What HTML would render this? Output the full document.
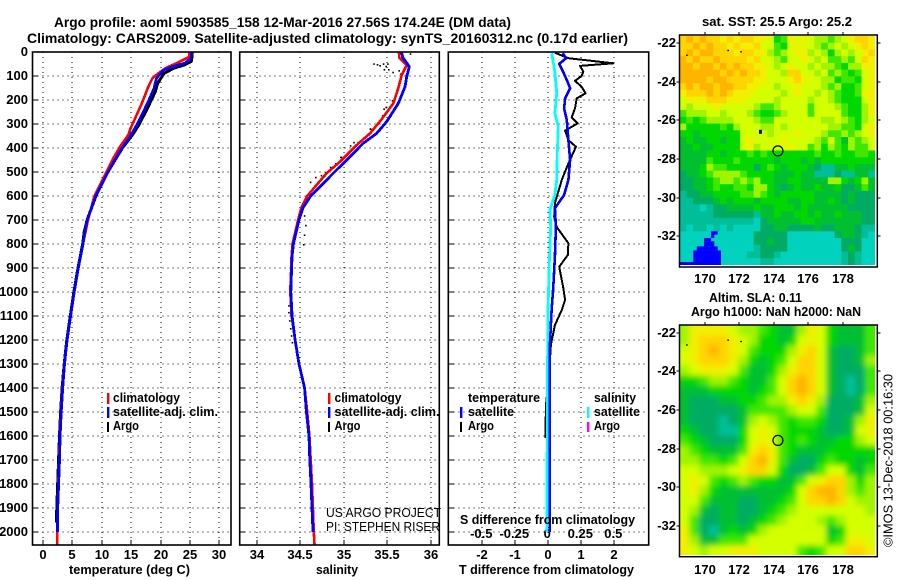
<!DOCTYPE html>
<html lang="en">
<head>
<meta charset="utf-8">
<title>Argo profile 5903585_158</title>
<style>
html,body{margin:0;padding:0;background:#fff;}
svg{display:block;}
text{font-family:"Liberation Sans",Arial,sans-serif;fill:#000;}
.b{font-weight:bold;font-size:13px;}
.t{font-weight:bold;font-size:14px;}
.r{font-weight:normal;font-size:12.5px;}
</style>
</head>
<body>
<svg id="chart" xmlns="http://www.w3.org/2000/svg" width="900" height="580" viewBox="0 0 900 580">
  <rect x="0" y="0" width="900" height="580" fill="#fff"/>
  <defs>
    <clipPath id="clip-sst"><rect x="679.5" y="36" width="195.5" height="229"/></clipPath>
    <clipPath id="clip-sla"><rect x="679.5" y="325.5" width="195.5" height="229.5"/></clipPath>
    <filter id="smooth" filterUnits="userSpaceOnUse" x="640" y="290" width="280" height="300"><feGaussianBlur stdDeviation="3"/></filter>
  </defs>
  <text class="t" x="54" y="27" textLength="457" lengthAdjust="spacingAndGlyphs">Argo profile: aoml 5903585_158 12-Mar-2016 27.56S 174.24E (DM data)</text>
  <text class="t" x="27" y="43" textLength="601" lengthAdjust="spacingAndGlyphs">Climatology: CARS2009. Satellite-adjusted climatology: synTS_20160312.nc (0.17d earlier)</text>
  <g id="panels"></g>
  <g id="maps"></g>

  <text class="b" x="69" y="574" textLength="121" lengthAdjust="spacingAndGlyphs">temperature (deg C)</text>
  <text class="b" x="316" y="574" textLength="42" lengthAdjust="spacingAndGlyphs">salinity</text>
  <text class="b" x="459" y="574" textLength="175" lengthAdjust="spacingAndGlyphs">T difference from climatology</text>
  <text class="b" x="460" y="524" textLength="175" lengthAdjust="spacingAndGlyphs">S difference from climatology</text>

  <g>
    <rect x="107" y="393" width="2.4" height="11" fill="#f00"/>
    <text class="b" x="113" y="402" textLength="67" lengthAdjust="spacingAndGlyphs">climatology</text>
    <rect x="107" y="407" width="2.4" height="11" fill="#00f"/>
    <text class="b" x="113" y="416" textLength="105" lengthAdjust="spacingAndGlyphs">satellite-adj. clim.</text>
    <rect x="107" y="422" width="2" height="10" fill="#000"/>
    <text class="b" x="113" y="430" textLength="26" lengthAdjust="spacingAndGlyphs">Argo</text>
  </g>
  <g>
    <rect x="328" y="393" width="2.4" height="11" fill="#f00"/>
    <text class="b" x="334.5" y="402" textLength="67" lengthAdjust="spacingAndGlyphs">climatology</text>
    <rect x="328" y="407" width="2.4" height="11" fill="#00f"/>
    <text class="b" x="334.5" y="416" textLength="105" lengthAdjust="spacingAndGlyphs">satellite-adj. clim.</text>
    <rect x="328" y="422" width="2" height="10" fill="#000"/>
    <text class="b" x="334.5" y="430" textLength="26" lengthAdjust="spacingAndGlyphs">Argo</text>
  </g>
  <g>
    <text class="b" x="468" y="402" textLength="72" lengthAdjust="spacingAndGlyphs">temperature</text>
    <rect x="460" y="407" width="2.4" height="11" fill="#00f"/>
    <text class="b" x="468" y="416" textLength="46" lengthAdjust="spacingAndGlyphs">satellite</text>
    <rect x="460" y="422" width="2" height="10" fill="#000"/>
    <text class="b" x="468" y="430" textLength="26" lengthAdjust="spacingAndGlyphs">Argo</text>
    <text class="b" x="594" y="402" textLength="42" lengthAdjust="spacingAndGlyphs">salinity</text>
    <rect x="587" y="407" width="2.4" height="11" fill="#0ff"/>
    <text class="b" x="594" y="416" textLength="46" lengthAdjust="spacingAndGlyphs">satellite</text>
    <rect x="587" y="422" width="2.4" height="10" fill="#f0f"/>
    <text class="b" x="594" y="430" textLength="26" lengthAdjust="spacingAndGlyphs">Argo</text>
  </g>

  <text class="r" x="326" y="517" textLength="115" lengthAdjust="spacingAndGlyphs">US ARGO PROJECT</text>
  <text class="r" x="326" y="531" textLength="114" lengthAdjust="spacingAndGlyphs">PI: STEPHEN RISER</text>

  <text class="b" x="702" y="26" textLength="150" lengthAdjust="spacingAndGlyphs">sat. SST: 25.5 Argo: 25.2</text>
  <text class="b" x="709" y="302" textLength="93" lengthAdjust="spacingAndGlyphs">Altim. SLA: 0.11</text>
  <text class="b" x="691" y="316" textLength="170" lengthAdjust="spacingAndGlyphs">Argo h1000: NaN h2000: NaN</text>
  <text class="r" transform="translate(892.5,547) rotate(-90)" x="0" y="0" textLength="173" lengthAdjust="spacingAndGlyphs">©IMOS 13-Dec-2018 00:16:30</text>
</svg>

<script>
/* ---------- profile data ---------- */
const depthTicks = [0,100,200,300,400,500,600,700,800,900,1000,1100,1200,1300,1400,1500,1600,1700,1800,1900,2000];
const tempTicks = [0,5,10,15,20,25,30];
const salTicks = [34,34.5,35,35.5,36];
const salTickLabels = ['34','34.5','35','35.5','36'];
const diffTTicks = [-2,-1,0,1,2];
const diffSLabels = ['-0.5','-0.25','0','0.25','0.5'];

const tempClimDepth = [0,20,26,47,65,89,110,145,180,214,269,318,346,395,443,505,600,650,700,800,900,1000,1100,1200,1300,1400,1500,1600,1700,1800,1900,2000,2055];
const tempClim = [24.9,24.9,24.4,22.7,21.0,19.6,18.6,17.9,17.35,16.8,15.8,14.9,14.5,13.1,11.95,10.7,8.75,8.2,7.65,6.8,6.0,5.3,4.7,4.1,3.6,3.3,3.05,2.85,2.75,2.6,2.5,2.4,2.4];
const tempSatDepth = [0,26,47,61,75,110,151,207,235,304,353,415,505,600,700,750,800,900,1000,1100,1200,1300,1400,1500,1600,1700,1800,1900,2000];
const tempSat = [25.3,25.2,24.1,22.1,20.5,19.3,18.9,17.9,17.35,15.95,14.8,13.1,10.95,9.0,7.5,7.1,6.8,6.0,5.3,4.7,4.1,3.65,3.35,3.1,2.9,2.8,2.65,2.5,2.45];
const tempArgoDepth = [0,26,40,54,68,89,130,165,235,304,346,400,505,600,700,750,800,900,1000,1100,1200,1300,1400,1500,1600,1700,1800,1900,1960];
const tempArgo = [25.3,25.3,25.2,24.0,22.2,20.6,19.5,19.1,17.75,16.3,15.2,13.5,10.9,9.0,7.5,7.0,6.75,5.95,5.25,4.65,4.05,3.6,3.25,3.0,2.8,2.65,2.5,2.35,2.3];

const salClimDepth = [0,5,24,54,96,151,214,280,339,388,457,505,600,650,700,800,850,900,1000,1100,1200,1300,1400,1500,1600,1700,1800,1900,2000,2055];
const salClim = [35.637,35.637,35.64,35.726,35.668,35.629,35.571,35.438,35.303,35.15,34.957,34.804,34.58,34.51,34.475,34.41,34.4,34.395,34.385,34.4,34.44,34.485,34.55,34.58,34.605,34.62,34.635,34.645,34.655,34.665];
const salSatDepth = [0,5,24,61,103,145,214,290,339,380,443,505,600,650,700,800,850,900,1000,1100,1200,1300,1400,1500,1600,1700,1800,1900,2000];
const salSat = [35.668,35.668,35.683,35.756,35.726,35.706,35.629,35.495,35.38,35.226,35.053,34.88,34.62,34.53,34.485,34.42,34.405,34.4,34.39,34.405,34.44,34.485,34.55,34.57,34.6,34.61,34.623,34.635,34.646];
const salArgoDepth = [5,20,47,50,54,47,57,47,71,71,82,75,89,200,221,228,263,304,318,353,374,388,415,436,463,500,540,520,512,478,436,374,318,235,200,680,720,760,800,1055,1083,1117,1150,1180,1208];
const salArgo = [35.76,35.66,35.34,35.38,35.41,35.45,35.48,35.5,35.51,35.46,35.56,35.63,35.65,35.58,35.54,35.48,35.44,35.37,35.3,35.245,35.157,35.07,35.065,34.965,34.9,34.785,34.61,34.67,34.735,34.84,34.957,35.11,35.3,35.456,35.553,34.54,34.555,34.54,34.53,34.36,34.36,34.37,34.38,34.39,34.4];

const diffArgoTDepth = [3,26,47,58,82,100,120,145,172,193,235,272,297,328,367,395,464,533,630,686,728,797,846,895,978,1033,1075,1138,1220,1346,1470,1608];
const diffArgoT = [0.2,0.61,1.97,0.96,1.06,1.01,0.81,1.01,1.13,0.86,0.81,0.71,0.89,0.51,0.61,0.84,0.61,0.41,0.2,0.18,0.25,0.61,0.59,0.33,0.45,0.51,0.41,0.2,0.08,0.02,-0.07,-0.09];
const diffSatTDepth = [5,26,50,82,117,151,193,235,283,367,450,533,596,651,728,853,978,1075,1220,2000];
const diffSatT = [0.44,0.54,0.33,0.45,0.56,0.66,0.51,0.48,0.56,0.61,0.66,0.61,0.48,0.2,0.23,0.2,0.15,0.1,0.05,0.05];
const diffSatSDepth = [5,82,172,255,311,422,533,596,658,728,867,1075,1354,2000];
const diffSatS = [0.026,0.05,0.064,0.05,0.076,0.068,0.064,0.05,0.013,0.018,0.008,-0.002,-0.006,-0.011];

/* ---------- map data ---------- */
const lonTicks = [170,172,174,176,178];
const latTicks = [-22,-24,-26,-28,-30,-32];
const floatLon = 174.24;
const floatLat = -27.56;
const sstLevelColors = ['#0000ff','#00d2be','#00bf98','#00ac64','#00c030','#00d800','#40e800','#a0f400','#d4ff00','#f0f000','#ffd400','#ffb400'];
const sstCells = [
[10,11,10,11,10,10,9,10,9,10,10,9,9,8,5,6,9,8,9,8,7,7,6,7,8,9,10,10,9],
[10,10,11,10,11,10,10,9,10,9,9,10,8,8,6,5,8,9,8,8,7,6,7,8,7,8,9,10,9],
[10,11,10,11,11,10,10,10,9,10,10,9,9,7,6,7,8,9,9,7,8,7,5,7,8,7,8,9,10],
[11,10,11,10,10,11,10,10,10,10,9,10,8,8,7,6,8,8,9,8,7,8,6,6,7,6,8,10,9],
[11,11,10,11,11,10,11,10,11,10,10,9,9,8,7,8,9,8,8,7,8,7,7,6,5,7,7,9,9],
[11,11,11,11,11,11,10,11,10,11,10,10,9,8,8,7,10,10,8,8,7,8,6,7,6,5,6,8,9],
[11,11,11,11,10,11,11,10,10,10,10,9,9,8,8,8,9,10,9,8,8,7,7,5,6,6,5,8,9],
[10,11,10,11,11,10,11,11,10,10,9,9,8,8,7,8,8,9,8,8,8,7,6,7,5,5,6,8,9],
[9,10,10,10,11,10,11,10,9,9,9,8,8,8,8,7,8,9,8,8,7,8,7,6,5,5,6,9,9],
[8,9,9,9,10,10,10,9,9,9,8,8,8,8,7,8,8,8,8,7,8,8,7,6,5,5,5,8,9],
[8,7,8,8,8,9,8,8,8,8,8,7,6,6,7,8,8,8,8,6,8,8,8,7,6,5,5,7,9],
[6,7,7,7,8,8,7,8,8,8,7,6,5,5,6,7,8,8,8,6,8,8,8,8,6,5,5,7,9],
[5,6,5,6,7,7,7,7,8,8,8,7,6,6,8,8,8,8,8,8,8,7,7,8,7,6,5,7,8],
[7,5,5,5,5,5,6,5,7,8,8,8,7,7,8,7,8,8,8,8,8,8,7,7,6,6,5,8,9],
[5,5,4,5,5,5,5,5,5,8,8,8,8,7,8,8,8,9,8,8,8,7,6,6,7,6,7,8,9],
[4,5,4,4,5,5,4,5,5,8,9,8,8,8,8,9,8,8,8,8,7,6,8,6,4,7,6,7,8],
[4,4,5,4,4,5,5,5,5,8,9,7,8,8,8,8,9,8,8,6,7,5,7,6,5,7,6,6,8],
[4,4,4,4,5,5,4,5,5,5,6,5,6,5,5,5,5,5,5,5,6,5,5,6,5,5,6,6,5],
[4,4,4,4,6,5,5,5,6,5,5,5,5,5,4,5,5,5,4,5,4,5,5,5,5,5,5,5,5],
[4,4,4,5,7,6,6,5,5,5,5,3,5,6,5,4,5,5,5,4,3,2,2,4,4,5,4,4,4],
[3,4,4,5,6,7,7,7,7,6,5,5,5,5,4,4,4,5,4,4,2,2,2,3,2,2,4,4,2],
[3,3,4,4,5,6,7,7,6,7,6,7,5,5,4,4,5,5,4,4,4,4,7,7,5,4,5,7,4],
[3,3,4,4,5,6,5,5,6,6,5,7,7,5,4,3,4,5,4,4,5,4,4,5,3,3,4,6,4],
[2,3,3,4,4,5,5,5,5,6,6,7,6,5,4,5,5,5,5,5,4,4,4,4,3,4,3,3,3],
[2,2,3,3,3,4,5,4,5,5,5,4,5,5,5,5,4,4,5,5,4,4,5,4,3,4,3,3,3],
[2,2,2,1,2,3,3,4,4,4,4,5,4,4,5,5,5,4,5,4,4,4,4,4,4,3,3,3,3],
[2,2,2,2,2,3,3,3,3,3,3,2,4,4,5,4,4,5,5,4,5,4,4,5,4,4,4,3,3],
[2,2,2,2,2,2,2,2,2,2,2,1,3,4,4,4,4,4,5,5,4,4,4,4,4,4,4,3,3],
[2,1,2,2,1,2,1,2,1,1,1,1,3,3,4,4,3,3,3,3,4,3,3,4,4,4,3,2,2],
[1,1,1,1,1,1,1,1,1,1,1,3,3,3,3,3,1,1,1,1,1,1,1,3,4,4,3,2,1],
[1,1,1,1,1,1,1,1,1,1,1,3,3,4,3,3,1,1,1,1,1,1,1,1,3,3,3,1,1],
[1,1,1,1,1,1,1,1,1,1,1,2,3,3,3,3,1,1,1,1,1,1,1,1,3,4,3,1,1],
[1,1,1,1,1,1,1,1,1,1,2,2,3,3,2,1,1,1,1,1,1,1,1,1,2,3,2,1,1],
[1,1,1,1,1,1,1,1,1,1,1,1,2,2,1,1,1,1,1,1,1,1,1,1,2,3,2,1,1]
];
const landLatTop = [-31.74,-31.91,-32.09,-32.26,-32.52,-32.73,-33.33,-26.49];
const landLatBottom = [-31.91,-32.09,-32.26,-32.52,-32.73,-33.33,-33.5,-26.7];
const landLonWest = [170.35,170.35,169.94,169.94,169.52,169.32,168.52,173.14];
const landLonEast = [170.74,170.54,170.35,170.54,170.74,170.93,170.93,173.31];
const islandLon = [168.9,171.3,172.05];
const islandLat = [-22.6,-22.35,-22.42];
const slaCells = [
[7,9,9,9,9,8,7,7,6,5,4,4,7,9,8,5,4,4,4,6],
[7,9,10,10,10,9,8,7,5,5,4,5,8,9,8,5,4,4,4,6],
[8,9,10,11,10,9,8,6,5,5,5,7,9,10,8,4,3,3,4,6],
[8,9,10,10,10,9,7,5,4,5,6,8,10,10,8,4,3,3,4,7],
[7,8,9,9,9,8,6,4,4,5,7,9,10,10,8,4,3,3,3,6],
[5,5,6,7,7,6,5,4,4,6,8,10,11,10,8,4,3,2,3,6],
[4,4,4,5,5,5,5,4,5,6,8,10,11,10,8,4,3,2,3,6],
[4,3,3,3,4,4,5,5,6,7,7,9,10,9,7,3,3,3,4,7],
[4,3,3,3,3,3,4,6,6,6,6,7,8,8,6,3,3,3,4,8],
[4,3,3,3,2,3,4,7,8,7,6,5,6,6,5,3,3,4,7,9],
[5,4,3,3,2,2,5,8,9,8,6,5,5,5,4,3,3,4,8,9],
[6,5,4,3,3,3,5,8,9,8,6,5,6,5,4,4,5,5,7,8],
[7,6,5,4,4,4,6,9,10,9,6,5,4,4,4,5,5,5,5,5],
[7,7,6,6,5,6,8,10,11,9,6,4,3,3,5,6,5,5,4,5],
[8,8,7,7,7,8,9,10,10,8,5,3,3,4,6,8,8,5,4,6],
[8,9,8,6,5,6,7,6,5,5,4,4,6,8,9,10,10,7,5,7],
[8,9,7,5,4,4,4,4,4,4,4,5,8,10,11,11,10,7,6,7],
[8,8,6,4,4,4,3,3,4,4,5,6,8,10,10,11,10,8,7,7],
[8,7,4,3,4,4,3,3,4,5,6,7,8,8,8,8,8,8,8,7],
[8,6,3,3,4,4,3,4,5,6,7,8,8,8,7,6,7,8,8,8],
[9,6,3,2,4,5,4,5,7,8,8,8,8,8,8,4,5,8,8,8],
[9,7,4,4,6,6,6,8,8,8,8,8,8,8,8,5,6,9,9,8],
[9,8,7,8,8,9,9,9,8,8,8,8,6,5,6,8,8,10,10,9]
];

/* ---------- axis functions ---------- */
const NS = 'http://www.w3.org/2000/svg';
const yDepth = d => 52 + d * 0.24;
const xTemp = t => 43 + t * 5.88;
const xSal = s => 300.3 + (s - 34.5) * 86.8;
const xDiffT = t => 548.3 + t * 33;
const xDiffS = s => 548.3 + s * 132;
const xLon = lon => 705 + (lon - 170) * 17.2;
const ySst = lat => 43 + (-22 - lat) * 19.33;
const ySla = lat => 332.7 + (-22 - lat) * 19.3;

function make(parent, tag, attrs, txt) {
  const el = document.createElementNS(NS, tag);
  for (const k in attrs) el.setAttribute(k, attrs[k]);
  if (txt !== undefined) el.textContent = txt;
  parent.appendChild(el);
  return el;
}
const panelsG = document.getElementById('panels');
const mapsG = document.getElementById('maps');
const TOP = 52, BOT = 545;

function drawPanel(name, left, right, xFn, xVals, xLabels, labelDepth) {
  const g = make(panelsG, 'g', {});
  
  
  depthTicks.forEach(d => {
    const y = Math.round(yDepth(d));
    if (d > 0) {
      const gl = make(g, 'line', {x1:left,x2:right,y1:y,y2:y,stroke:'#000','stroke-width':1,'stroke-dasharray':'1 4','shape-rendering':'crispEdges'});
      
      
      const tl = make(g, 'line', {x1:left,x2:left+5,y1:y,y2:y,stroke:'#000','stroke-width':1,'shape-rendering':'crispEdges'});
      
      
    }
    if (labelDepth) {
      const lb = make(g, 'text', {x:28,y:y+4,'text-anchor':'end','class':'b'}, String(d));
      
      
    }
  });
  xVals.forEach((v, i) => {
    const x = Math.round(xFn(v));
    const gl = make(g, 'line', {x1:x,x2:x,y1:TOP,y2:BOT,stroke:'#000','stroke-width':1,'stroke-dasharray':'1 4','shape-rendering':'crispEdges'});
    
    
    const tl = make(g, 'line', {x1:x,x2:x,y1:BOT-5,y2:BOT,stroke:'#000','stroke-width':1,'shape-rendering':'crispEdges'});
    
    
    const lb = make(g, 'text', {x:x,y:559,'text-anchor':'middle','class':'b'}, xLabels[i]);
    
    
  });
  return g;
}
function drawLine(g, name, depths, vals, xFn, color, w) {
  const pts = depths.map((d, i) => xFn(vals[i]).toFixed(1) + ',' + yDepth(d).toFixed(1)).join(' ');
  const l = make(g, 'polyline', {points:pts,fill:'none',stroke:color,'stroke-width':w,'stroke-linejoin':'round','shape-rendering':'crispEdges'});
  
  
}
function drawFrame(g, left, right) {
  const f = make(g, 'rect', {x:left,y:TOP,width:right-left,height:BOT-TOP,fill:'none',stroke:'#000','stroke-width':1.6});
  
  
}

/* temperature panel */
const pT = drawPanel('temperature', 32.5, 231, xTemp, tempTicks, tempTicks.map(String), true);
drawLine(pT, 'argo-temperature-line', tempArgoDepth, tempArgo, xTemp, '#000', 3);
drawLine(pT, 'climatology-temperature-line', tempClimDepth, tempClim, xTemp, '#f00', 2.6);
drawLine(pT, 'satellite-temperature-line', tempSatDepth, tempSat, xTemp, '#00f', 2.8);
drawFrame(pT, 32.5, 231);

/* salinity panel */
const pS = drawPanel('salinity', 239.7, 439.3, xSal, salTicks, salTickLabels, false);
salArgo.forEach((s, i) => {
  const dot = make(pS, 'rect', {x:xSal(s).toFixed(1),y:yDepth(salArgoDepth[i]).toFixed(1),width:1.6,height:1.6,fill:'#000'});
  
  
});
drawLine(pS, 'climatology-salinity-line', salClimDepth, salClim, xSal, '#f00', 2.6);
drawLine(pS, 'satellite-salinity-line', salSatDepth, salSat, xSal, '#00f', 2.8);
drawFrame(pS, 239.7, 439.3);

/* difference panel */
const pD = drawPanel('difference', 448.3, 648.7, xDiffT, diffTTicks, diffTTicks.map(String), false);
diffTTicks.forEach((v, i) => {
  const lb = make(pD, 'text', {x:xDiffT(v)-1,y:538,'text-anchor':'middle','class':'b'}, diffSLabels[i]);
  
  
});
drawLine(pD, 'argo-t-difference-line', diffArgoTDepth, diffArgoT, xDiffT, '#000', 2);
drawLine(pD, 'satellite-s-difference-line', diffSatSDepth, diffSatS, xDiffS, '#0ff', 2.8);
drawLine(pD, 'satellite-t-difference-line', diffSatTDepth, diffSatT, xDiffT, '#00f', 2.6);
drawFrame(pD, 448.3, 648.7);

/* maps */
function drawMapAxes(g, yFn, top, bottom, labelY) {
  const left = 679.5, right = 877.3;
  const f = make(g, 'rect', {x:left,y:top,width:right-left,height:bottom-top,fill:'none',stroke:'#000','stroke-width':1.5});
  
  
  lonTicks.forEach(lon => {
    const x = Math.round(xLon(lon));
    const t = make(g, 'line', {x1:x,x2:x,y1:top-3,y2:top,stroke:'#000','stroke-width':1,'shape-rendering':'crispEdges'});
    
    
    const lb = make(g, 'text', {x:x,y:labelY,'text-anchor':'middle','class':'b'}, String(lon));
    
    
  });
  latTicks.forEach(lat => {
    const y = Math.round(yFn(lat));
    const t = make(g, 'line', {x1:right,x2:right+3,y1:y,y2:y,stroke:'#000','stroke-width':1,'shape-rendering':'crispEdges'});
    
    
    const t2 = make(g, 'line', {x1:left-3,x2:left,y1:y,y2:y,stroke:'#000','stroke-width':1,'shape-rendering':'crispEdges'});
    
    
    const lb = make(g, 'text', {x:676,y:y+4,'text-anchor':'end','class':'b'}, String(lat));
    
    
  });
  const c = make(g, 'circle', {cx:xLon(floatLon),cy:yFn(floatLat)+0.4,r:5,fill:'none',stroke:'#000','stroke-width':1.2});
  
  
}
function drawIslands(g, yFn) {
  islandLon.forEach((lon, i) => {
    const d = make(g, 'rect', {x:xLon(lon),y:yFn(islandLat[i]),width:1.6,height:1.4,fill:'#000'});
    
    
  });
}

/* SST map */
const sstG = make(mapsG, 'g', {'clip-path':'url(#clip-sst)'});


const sstCw = 195.5 / sstCells[0].length, sstCh = 229 / sstCells.length;
sstCells.forEach((row, r) => row.forEach((v, c) => {
  const cell = make(sstG, 'rect', {x:(679.5+c*sstCw).toFixed(2),y:(36+r*sstCh).toFixed(2),width:(sstCw+0.5).toFixed(2),height:(sstCh+0.5).toFixed(2),fill:sstLevelColors[v]});
  
  
}));
landLatTop.forEach((lat, i) => {
  const land = make(sstG, 'rect', {x:xLon(landLonWest[i]),y:ySst(lat),width:xLon(landLonEast[i])-xLon(landLonWest[i]),height:ySst(landLatBottom[i])-ySst(lat),fill:sstLevelColors[0]});
  
  
});
drawIslands(sstG, ySst);
const sstAxes = make(mapsG, 'g', {});


drawMapAxes(sstAxes, ySst, 35, 267, 283);

/* SLA map */
const slaClip = make(mapsG, 'g', {'clip-path':'url(#clip-sla)'});


const slaG = make(slaClip, 'g', {filter:'url(#smooth)'});
const slaCw = 195.5 / slaCells[0].length, slaCh = 230 / slaCells.length;
slaCells.forEach((row, r) => row.forEach((v, c) => {
  const pad = 16;
  const x0 = 679.5 + c * slaCw - (c === 0 ? pad : 0);
  const x1 = 679.5 + (c + 1) * slaCw + (c === row.length - 1 ? pad : 0.5);
  const y0 = 325.5 + r * slaCh - (r === 0 ? pad : 0);
  const y1 = 325.5 + (r + 1) * slaCh + (r === slaCells.length - 1 ? pad : 0.5);
  const cell = make(slaG, 'rect', {x:x0.toFixed(2),y:y0.toFixed(2),width:(x1-x0).toFixed(2),height:(y1-y0).toFixed(2),fill:sstLevelColors[v]});
  
  
}));
drawIslands(slaClip, ySla);
const slaAxes = make(mapsG, 'g', {});


drawMapAxes(slaAxes, ySla, 325, 556.7, 574);
</script>
</body>
</html>
